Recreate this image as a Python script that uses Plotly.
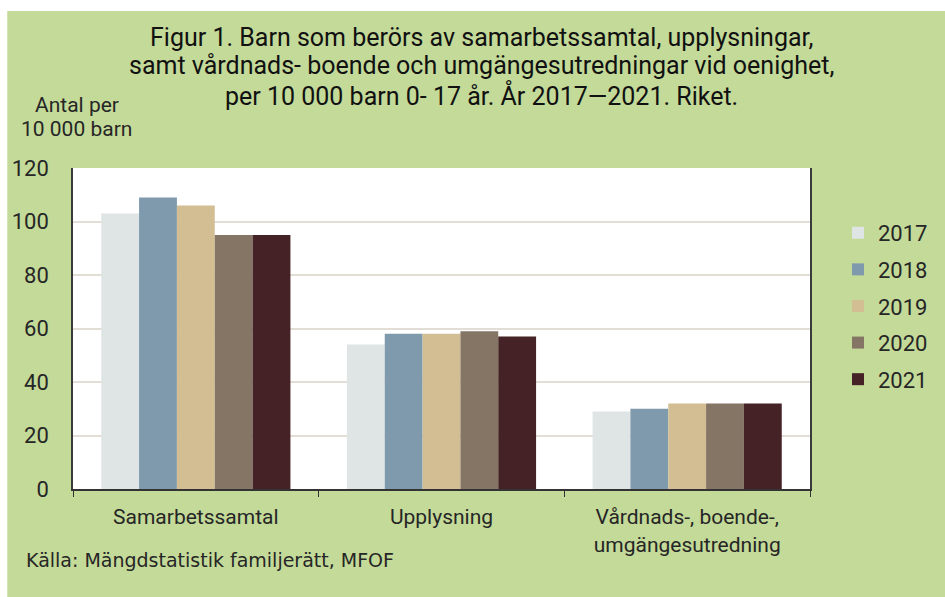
import plotly.graph_objects as go

categories = ["Samarbetssamtal", "Upplysning", "Vårdnads-, boende-,<br>umgängesutredning"]
years = ["2017", "2018", "2019", "2020", "2021"]
values = {
    "2017": [103, 54, 29],
    "2018": [109, 58, 30],
    "2019": [106, 58, 32],
    "2020": [95, 59, 32],
    "2021": [95, 57, 32],
}
colors = ["#DFE5E5", "#7E9AAC", "#D3BE94", "#857565", "#452226"]
y_ticks = [0, 20, 40, 60, 80, 100, 120]
title_lines = [
    "Figur 1. Barn som berörs av samarbetssamtal, upplysningar,",
    "samt vårdnads- boende och umgängesutredningar vid oenighet,",
    "per 10 000 barn 0- 17 år. År 2017\u20142021. Riket.",
]

GREEN = "#C4DA99"
TEXT = "#262626"

fig = go.Figure()
for i, yr in enumerate(years):
    fig.add_trace(go.Bar(
        x=categories, y=values[yr], name=yr,
        marker=dict(color=colors[i], line=dict(width=0)),
        legendgroup=yr,
    ))

# plot area at x 73..813, y 168..489 of the 945x597 page (body margin removed below)
fig.update_layout(
    width=945, height=597,
    margin=dict(l=73, r=132, t=168, b=108),
    paper_bgcolor=GREEN,
    plot_bgcolor="white",
    barmode="group",
    bargap=0.23,
    bargroupgap=0,
    font=dict(family="Roboto", color=TEXT),
    legend=dict(
        x=1.038, xanchor="left", y=0.863, yanchor="top",
        bgcolor="rgba(0,0,0,0)",
        font=dict(size=22, color=TEXT),
        tracegroupgap=5,
        itemwidth=30,
    ),
    showlegend=True,
)

fig.update_xaxes(
    showline=True, linecolor="#333333", linewidth=2, mirror=False,
    ticks="outside", tickson="boundaries", ticklen=6, tickcolor="#333333",
    ticklabelstandoff=8,
    tickfont=dict(size=21, color=TEXT),
    showgrid=False,
)
fig.update_yaxes(
    range=[0, 120], tickvals=y_ticks,
    showline=True, linecolor="#3a3a3a", linewidth=1.5, mirror=True,
    ticks="", ticklabelstandoff=18,
    tickfont=dict(size=22, color=TEXT),
    showgrid=True, gridcolor="#E2DED6", gridwidth=1.5,
    zeroline=False,
)

# white border on the top and left of the green panel
fig.add_shape(type="rect", xref="paper", yref="paper", layer="below",
              x0=-0.2, x1=1.3, y0=1.489, y1=1.6, fillcolor="white", line_width=0)
fig.add_shape(type="rect", xref="paper", yref="paper", layer="below",
              x0=-0.2, x1=-0.0892, y0=-0.5, y1=1.6, fillcolor="white", line_width=0)

for line, yp in zip(title_lines, [1.408, 1.318, 1.227]):
    fig.add_annotation(
        text=line, xref="paper", yref="paper", x=0.554, y=yp,
        xanchor="center", yanchor="middle", showarrow=False,
        font=dict(family="Roboto", size=25, color="#111111"),
    )

for line, yp in zip(["Antal per", "10 000 barn"], [1.196, 1.121]):
    fig.add_annotation(
        text=line, xref="paper", yref="paper", x=0.0054, y=yp,
        xanchor="center", yanchor="middle", showarrow=False,
        font=dict(size=21, color=TEXT),
    )

fig.add_annotation(
    text="Källa: Mängdstatistik familjerätt, MFOF", xref="paper", yref="paper",
    x=-0.066, y=-0.221, xanchor="left", yanchor="middle", showarrow=False,
    font=dict(family="DejaVu Sans", size=19, color=TEXT),
)

fig.write_html("out.html", config={"displayModeBar": False},
               post_script="document.body.style.margin='0';")
